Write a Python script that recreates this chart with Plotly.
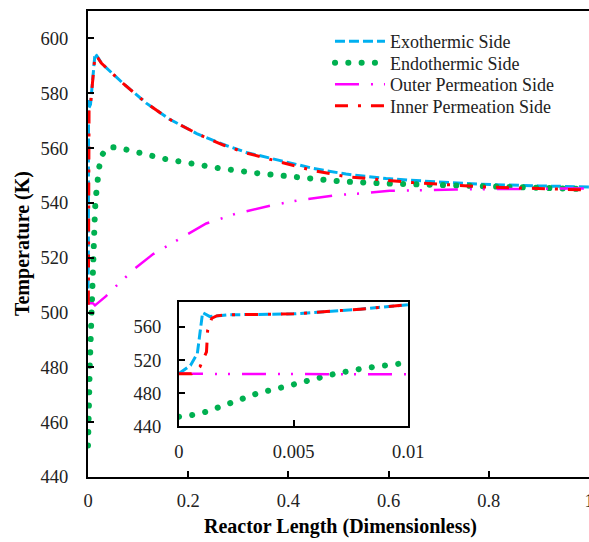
import plotly.graph_objects as go

# ---------------- data ----------------
exo_x = [0, 0.0005, 0.0008, 0.0009, 0.00103, 0.00135, 0.0021, 0.005, 0.0079, 0.01,
         0.014, 0.02, 0.027, 0.07, 0.117, 0.163, 0.217, 0.27, 0.316, 0.382,
         0.449, 0.515, 0.595, 0.7, 0.781, 0.9, 1.0]
exo_T = [503.7, 513.5, 527.8, 552.3, 577.5, 572.6, 574.7, 575.9, 581.6, 586.9,
         594.5, 593.0, 590.9, 583.6, 576.3, 570.5, 565.3, 561.3, 558.4, 555.5,
         552.6, 550.5, 548.9, 547.6, 546.8, 546.2, 545.8]

endo_x = [0, 0.0006, 0.0012, 0.0018, 0.0023, 0.0034, 0.0046, 0.0058, 0.0069, 0.0081, 0.0093,
          0.0099, 0.011, 0.012, 0.013, 0.014, 0.016, 0.0185, 0.022, 0.028, 0.035,
          0.048, 0.06, 0.075, 0.101, 0.127, 0.154, 0.183, 0.207, 0.263, 0.343,
          0.422, 0.502, 0.588, 0.668, 0.748, 0.831, 0.914, 1.0]
endo_T = [451.5, 453.6, 457.6, 463.4, 469.5, 479.6, 487.8, 496.0, 504.1, 510.2, 516.4,
          519.3, 524.0, 529.0, 533.0, 537.6, 542.6, 547.3, 552.8, 557.4, 559.5,
          560.3, 560.2, 559.5, 558.2, 557.2, 556.0, 555.1, 554.2, 552.6, 550.7,
          549.3, 547.9, 547.1, 546.7, 546.2, 545.8, 545.5, 545.0]

outer_x = [0, 0.0096, 0.014, 0.024, 0.036, 0.054, 0.094, 0.13, 0.18, 0.236,
           0.296, 0.369, 0.422, 0.495, 0.555, 0.602, 0.734, 0.85, 1.0]
outer_T = [503.4, 503.4, 502.6, 504.0, 506.0, 509.3, 516.1, 521.3, 526.6, 532.5,
           536.1, 539.2, 541.0, 542.8, 543.6, 544.4, 544.9, 545.1, 545.3]

inner_x = [0, 0.00055, 0.00092, 0.0012, 0.00125, 0.00143, 0.00164, 0.0021, 0.005, 0.0079, 0.01,
           0.014, 0.02, 0.027, 0.07, 0.117, 0.163, 0.217, 0.27, 0.316, 0.382,
           0.449, 0.515, 0.582, 0.648, 0.794, 0.947, 1.0]
inner_T = [503.4, 503.4, 512.3, 530.0, 556.0, 570.6, 573.5, 574.7, 575.9, 581.6, 586.9,
           593.8, 592.8, 590.9, 583.6, 576.3, 570.5, 565.3, 561.1, 558.2, 555.0,
           551.8, 549.6, 548.5, 547.4, 545.8, 544.9, 544.7]

series_names = ["Exothermic Side", "Endothermic Side", "Outer Permeation Side", "Inner Permeation Side"]

main_xticks = [0, 0.2, 0.4, 0.6, 0.8, 1]
main_xlabels = ["0", "0.2", "0.4", "0.6", "0.8", "1"]
main_yticks = [440, 460, 480, 500, 520, 540, 560, 580, 600]
inset_xticks = [0, 0.005, 0.01]
inset_xlabels = ["0", "0.005", "0.01"]
inset_yticks = [440, 480, 520, 560]

# ---------------- styles ----------------
FONT = "Liberation Serif, Times New Roman, Times, serif"
GREEN = "#00B050"
styles = [
    dict(color="#00B0F0", width=3, dash="10px,4px"),
    dict(color=GREEN, width=6, dash="0.1px,13.2px"),
    dict(color="#FF00FF", width=2.5, dash="24px,12px,2px,11px,2px,12px"),
    dict(color="#FF0000", width=3, dash="13px,10px,3px,10px"),
]
data = [(exo_x, exo_T), (endo_x, endo_T), (outer_x, outer_T), (inner_x, inner_T)]

fig = go.Figure()
for (xs, ys), name, st in zip(data, series_names, styles):
    fig.add_trace(go.Scatter(x=xs, y=ys, mode="lines", name=name, line=st,
                             xaxis="x", yaxis="y", showlegend=True))
for (xs, ys), name, st in zip(data, series_names, styles):
    fig.add_trace(go.Scatter(x=xs, y=ys, mode="lines", name=name, line=st,
                             xaxis="x2", yaxis="y2", showlegend=False))

axis_common = dict(showline=True, linecolor="black", linewidth=2, ticks="inside",
                   ticklen=6, tickwidth=2, tickcolor="black", showgrid=False,
                   zeroline=False, automargin=False, ticklabeloverflow="allow",
                   tickfont=dict(family=FONT, size=18.5, color="#222"))

fig.update_layout(
    width=589, height=542,
    margin=dict(l=88, r=0, t=11, b=65),
    paper_bgcolor="white", plot_bgcolor="white",
    font=dict(family=FONT, color="black"),
    xaxis=dict(domain=[0, 1], range=[0, 1.0], tickvals=main_xticks, ticktext=main_xlabels,
               mirror=True, anchor="y", ticklabelstandoff=6, **axis_common),
    yaxis=dict(domain=[0, 1], range=[440, 610], tickvals=main_yticks,
               anchor="x", ticklabelstandoff=14, **axis_common),
    xaxis2=dict(domain=[0.1816, 0.6393], range=[0, 0.01], tickvals=inset_xticks,
                ticktext=inset_xlabels, mirror=True, anchor="y2", ticklabelstandoff=8,
                **axis_common),
    yaxis2=dict(domain=[0.1089, 0.3751], range=[440, 590], tickvals=inset_yticks,
                mirror=True, anchor="x2", ticklabelstandoff=12, **axis_common),
    legend=dict(x=0.483, y=0.974, xanchor="left", yanchor="top",
                bgcolor="rgba(0,0,0,0)", itemwidth=50,
                font=dict(family=FONT, size=18, color="#222"),
                tracegroupgap=0),
    annotations=[
        dict(text="<b>Temperature (K)</b>", xref="paper", yref="paper",
             x=-0.1317, y=0.5, xanchor="center", yanchor="middle",
             textangle=-90, showarrow=False,
             font=dict(family=FONT, size=20, color="black")),
        dict(text="<b>Reactor Length (Dimensionless)</b>", xref="paper", yref="paper",
             x=0.503, y=-0.107, xanchor="center", yanchor="middle", showarrow=False,
             font=dict(family=FONT, size=20, color="black")),
    ],
)

post = """
var gd = document.getElementById('{plot_id}');
gd.querySelectorAll('path').forEach(function(p){
  var s = p.style.stroke || '';
  if (s.indexOf('0, 176, 80') >= 0) { p.style.strokeLinecap = 'round'; }
});
var items = gd.querySelectorAll('.legend .traces');
if (items.length) {
  var m = /translate\\(([-\\d.]+)[ ,]+([-\\d.]+)\\)/.exec(items[0].getAttribute('transform') || '');
  if (m) {
    var x0 = parseFloat(m[1]), y0 = parseFloat(m[2]);
    items.forEach(function(g, i){
      g.setAttribute('transform', 'translate(' + x0 + ',' + (y0 + i * 21.5) + ')');
    });
  }
}
"""

fig.write_html("out.html", post_script=post)
